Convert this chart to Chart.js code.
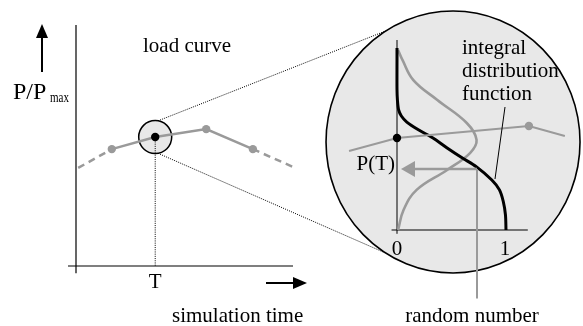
<!DOCTYPE html>
<html>
<head>
<meta charset="utf-8">
<script src="https://cdn.jsdelivr.net/npm/chart.js@4.4.0/dist/chart.umd.min.js"></script>
<style>
  body { margin: 0; background: #fff; }
  #wrap { width: 583px; height: 326px; }
</style>
</head>
<body>
<div id="wrap"><canvas id="diagram" width="583" height="326"></canvas></div>
<script>
// load curve: simulation time vs P/Pmax
var loadTime = [0.1, 1.65, 3.65, 6.0, 8.15, 10];
var loadP = [0.407, 0.485, 0.535, 0.568, 0.485, 0.411];
var tIndex = 2; // the point at time T

// zoomed piece of the load curve inside the magnifier
var zoomRand = [-0.44, 0, 1.21, 1.54];
var zoomP = [0.416, 0.484, 0.547, 0.495];

// integral distribution function (black) and density (gray), read top to bottom
var cdfP = [0.958, 0.895, 0.74, 0.684, 0.632, 0.6, 0.568, 0.526, 0.484, 0.432, 0.379, 0.332, 0.263, 0.211, 0.15, 0.08, 0];
var cdfRand = [0, 0, 0, 0.004, 0.015, 0.04, 0.09, 0.2, 0.33, 0.46, 0.6, 0.73, 0.87, 0.94, 0.975, 0.995, 1.0];
var pdfP = [0.947, 0.895, 0.789, 0.684, 0.563, 0.474, 0.405, 0.316, 0.211, 0.105, 0];
var pdfDens = [0.01, 0.05, 0.15, 0.37, 0.64, 0.73, 0.67, 0.46, 0.18, 0.06, 0.01];

// the drawn random number and the resulting P(T)
var sampleRand = 0.734;
var sampleP = 0.321;

// axis extents
var timeAxis = [-0.37, 10];
var pAxis = [-0.03, 1.0];
var randAxis = [-0.05, 1.2];
var insetPAxis = [-0.02, 1.0];
var randTicks = [0, 1];
var randTickLabels = ['0', '1'];

// layout (pixels)
var W = 583, H = 326;
var mainMap = { x0: 76, y0: 266, kx: 21.7, ky: 241 };
var insetMap = { x0: 397, y0: 230, kx: 109, ky: 190 };
var GRAY = '#9a9a9a';
var FILL = '#e8e8e8';
var FONT = '"Liberation Serif", "Times New Roman", serif';

function xRange(m) { var min = -m.x0 / m.kx; return { min: min, max: min + W / m.kx }; }
function yRange(m) { var max = m.y0 / m.ky; return { min: max - H / m.ky, max: max }; }

function pts(xs, ys) {
    return xs.map(function (x, i) { return { x: x, y: ys[i] }; });
}

function line(data, xId, yId, color, width, order, extra) {
    var ds = {
        data: data, xAxisID: xId, yAxisID: yId, showLine: true,
        borderColor: color, borderWidth: width, pointRadius: 0,
        fill: false, order: order, borderCapStyle: 'butt'
    };
    for (var k in extra) ds[k] = extra[k];
    return ds;
}

var loadRadius = loadTime.map(function (t, i) { return (i === 0 || i === loadTime.length - 1) ? 0 : 4.2; });
var loadColors = loadTime.map(function (t, i) { return i === tIndex ? '#000' : GRAY; });
var zoomRadius = zoomRand.map(function (r, i) { return (i === 1 || i === 2) ? 4.2 : 0; });
var zoomColors = zoomRand.map(function (r, i) { return i === 1 ? '#000' : GRAY; });

var datasets = [
    // main axes
    line(pts([0, 0], pAxis), 'x', 'y', '#000', 1.2, 20),
    line(pts(timeAxis, [0, 0]), 'x', 'y', '#000', 1.2, 20),
    // dotted drop line at T
    line(pts([loadTime[tIndex], loadTime[tIndex]], [loadP[tIndex], 0]), 'x', 'y', '#000', 1, 19,
        { borderDash: [1, 1.2] }),
    // load curve
    line(pts(loadTime, loadP), 'x', 'y', GRAY, 2.5, 18, {
        pointRadius: loadRadius, pointBackgroundColor: loadColors, pointBorderWidth: 0,
        segment: {
            borderDash: function (ctx) {
                return (ctx.p0DataIndex === 0 || ctx.p1DataIndex === loadTime.length - 1) ? [7, 5] : undefined;
            }
        }
    }),
    // inset axes
    line(pts([0, 0], insetPAxis), 'x2', 'y2', '#000', 1, 15),
    line(pts(randAxis, [0, 0]), 'x2', 'y2', '#000', 1, 15),
    // density
    line(pts(pdfDens, pdfP), 'x2', 'y2', GRAY, 2.6, 14, { tension: 0.4 }),
    // integral distribution function
    line(pts(cdfRand, cdfP), 'x2', 'y2', '#000', 3, 13, { tension: 0.3 }),
    // zoomed load curve
    line(pts(zoomRand, zoomP), 'x2', 'y2', GRAY, 2, 12, {
        pointRadius: zoomRadius, pointBackgroundColor: zoomColors, pointBorderWidth: 0
    }),
    // random number line
    line(pts([sampleRand, sampleRand], [sampleP, -0.36]), 'x2', 'y2', GRAY, 2, 11)
];

var decor = {
    id: 'decor',
    beforeDatasetsDraw: function (chart) {
        var ctx = chart.ctx, s = chart.scales;
        var bx = s.x2.getPixelForValue(0.514), by = s.y2.getPixelForValue(0.463);
        var sx = s.x.getPixelForValue(loadTime[tIndex]), sy = s.y.getPixelForValue(loadP[tIndex]);
        ctx.save();
        // magnifier
        ctx.beginPath();
        ctx.ellipse(bx, by, 127, 131, 0, 0, Math.PI * 2);
        ctx.fillStyle = FILL; ctx.fill();
        ctx.lineWidth = 1.6; ctx.strokeStyle = '#000'; ctx.stroke();
        // small circle
        ctx.beginPath();
        ctx.arc(sx, sy, 16.5, 0, Math.PI * 2);
        ctx.fillStyle = FILL; ctx.fill();
        ctx.lineWidth = 1.5; ctx.stroke();
        // connectors
        ctx.setLineDash([1, 1.2]); ctx.lineWidth = 1; ctx.strokeStyle = '#000';
        [-1, 1].forEach(function (sg) {
            var a0 = sg * 80 * Math.PI / 180, a1 = sg * 122 * Math.PI / 180;
            ctx.beginPath();
            ctx.moveTo(sx + 16.5 * Math.cos(a0), sy + 16.5 * Math.sin(a0));
            ctx.lineTo(bx + 127 * Math.cos(a1), by + 131 * Math.sin(a1));
            ctx.stroke();
        });
        ctx.restore();
    },
    afterDatasetsDraw: function (chart) {
        var ctx = chart.ctx, s = chart.scales;
        ctx.save();
        // gray arrow to P(T)
        var ax0 = s.x2.getPixelForValue(sampleRand), ay = s.y2.getPixelForValue(sampleP);
        var tip = s.x2.getPixelForValue(0) + 4;
        ctx.strokeStyle = GRAY; ctx.fillStyle = GRAY; ctx.lineWidth = 2.5;
        ctx.beginPath(); ctx.moveTo(ax0, ay); ctx.lineTo(tip + 12, ay); ctx.stroke();
        ctx.beginPath(); ctx.moveTo(tip, ay); ctx.lineTo(tip + 14, ay - 8); ctx.lineTo(tip + 14, ay + 8);
        ctx.closePath(); ctx.fill();
        // leader line from label to curve
        ctx.strokeStyle = '#000'; ctx.lineWidth = 1;
        ctx.beginPath(); ctx.moveTo(505, 107);
        ctx.lineTo(495, 179);
        ctx.stroke();
        // axis arrows
        ctx.fillStyle = '#000'; ctx.strokeStyle = '#000'; ctx.lineWidth = 2;
        ctx.beginPath(); ctx.moveTo(42, 72); ctx.lineTo(42, 34); ctx.stroke();
        ctx.beginPath(); ctx.moveTo(42, 24); ctx.lineTo(36, 38); ctx.lineTo(48, 38); ctx.closePath(); ctx.fill();
        ctx.beginPath(); ctx.moveTo(266, 283); ctx.lineTo(297, 283); ctx.stroke();
        ctx.beginPath(); ctx.moveTo(307, 283); ctx.lineTo(293, 277); ctx.lineTo(293, 289); ctx.closePath(); ctx.fill();

        // text
        ctx.fillStyle = '#000'; ctx.textBaseline = 'alphabetic';
        ctx.font = '21px ' + FONT;
        ctx.textAlign = 'center';
        ctx.fillText('load curve', 187, 52);
        ctx.fillText('T', s.x.getPixelForValue(loadTime[tIndex]), 288);
        ctx.fillText('random number', 472, 322);
        randTicks.forEach(function (v, i) {
            ctx.fillText(randTickLabels[i], s.x2.getPixelForValue(v) + (i ? -1 : 0), 255);
        });
        ctx.textAlign = 'left';
        ctx.fillText('simulation time', 172, 322);
        ctx.fillText('integral', 462, 54);
        ctx.fillText('distribution', 462, 77);
        ctx.fillText('function', 462, 100);
        ctx.textAlign = 'right';
        ctx.fillText('P(T)', s.x2.getPixelForValue(0) - 2, 170);
        ctx.textAlign = 'left';
        ctx.font = '24px ' + FONT;
        ctx.fillText('P/P', 13, 99, 38);
        ctx.font = '15px ' + FONT;
        ctx.fillText('max', 50, 102, 19);
        ctx.restore();
    }
};

var xr = xRange(mainMap), yr = yRange(mainMap), x2r = xRange(insetMap), y2r = yRange(insetMap);

new Chart(document.getElementById('diagram'), {
    type: 'scatter',
    data: { datasets: datasets },
    options: {
        responsive: false,
        animation: false,
        events: [],
        layout: { padding: 0 },
        plugins: { legend: { display: false }, tooltip: { enabled: false } },
        scales: {
            x: { type: 'linear', display: false, min: xr.min, max: xr.max },
            y: { type: 'linear', display: false, min: yr.min, max: yr.max },
            x2: { type: 'linear', axis: 'x', display: false, min: x2r.min, max: x2r.max },
            y2: { type: 'linear', axis: 'y', display: false, min: y2r.min, max: y2r.max }
        }
    },
    plugins: [decor]
});
</script>
</body>
</html>
